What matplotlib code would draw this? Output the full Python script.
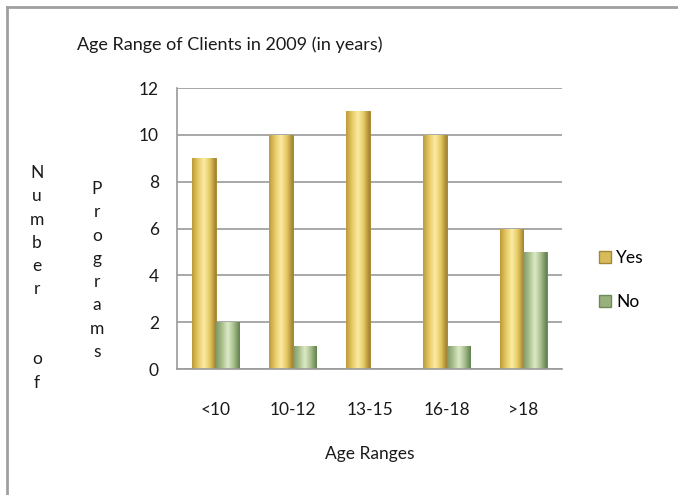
import numpy as np
import matplotlib
matplotlib.use("Agg")
import matplotlib.pyplot as plt
from matplotlib.colors import LinearSegmentedColormap
from matplotlib.patches import Patch
from matplotlib.lines import Line2D

# dados do gráfico
categorias = ["<10", "10-12", "13-15", "16-18", ">18"]
sim = [9, 10, 11, 10, 6]
nao = [2, 1, 0, 1, 5]
yticks = [0, 2, 4, 6, 8, 10, 12]

plt.rcParams['font.family'] = ['Lato', 'DejaVu Sans']

fig = plt.figure(figsize=(6.78, 4.95), dpi=100)
ax = fig.add_axes([0.2611, 0.2545, 0.5678, 0.5677])

# gradientes horizontais tipo Excel
cmap_sim = LinearSegmentedColormap.from_list(
    "sim", ["#BC9A3A", "#E6CA66", "#FBEBA4", "#E4C862", "#A08230"])
cmap_nao = LinearSegmentedColormap.from_list(
    "nao", ["#7E9866", "#A9C08C", "#DDEBC8", "#A6BE8A", "#61804E"])

x = np.arange(len(categorias))
largura = 0.3
b1 = ax.bar(x - largura / 2, sim, largura, color="#E0C460", edgecolor="#A88A36", linewidth=0.7, zorder=2)
b2 = ax.bar(x + largura / 2, nao, largura, color="#A8BE8C", edgecolor="#6E8A58", linewidth=0.7, zorder=2)

grad = np.linspace(0, 1, 64).reshape(1, -1)
for barras, cmap in [(b1, cmap_sim), (b2, cmap_nao)]:
    for b in barras:
        if b.get_height() <= 0:
            continue
        bx, by = b.get_x(), b.get_y()
        w, h = b.get_width(), b.get_height()
        im = ax.imshow(grad, cmap=cmap, extent=[bx, bx + w, by, by + h],
                       aspect="auto", zorder=2.5, interpolation="bicubic")
        im.set_clip_path(b)

ax.set_xlim(-0.5, len(categorias) - 0.5)
ax.set_ylim(0, 12)
ax.set_yticks(yticks)
ax.set_xticks(x)
ax.set_xticklabels(categorias)
ax.tick_params(axis="both", length=0, labelsize=12.5, colors="#1a1a1a")
ax.tick_params(axis="y", pad=13)
ax.tick_params(axis="x", pad=24)
ax.yaxis.grid(True, color="#9a9a9a", linewidth=1.2, zorder=0)
ax.set_axisbelow(True)
for lado in ["top", "right"]:
    ax.spines[lado].set_visible(False)
ax.spines["left"].set_color("#9a9a9a")
ax.spines["bottom"].set_color("#9a9a9a")
ax.spines["left"].set_linewidth(1.2)
ax.spines["bottom"].set_linewidth(1.2)

ax.set_xlabel("Age Ranges", fontsize=12.5, labelpad=20, color="#1a1a1a")

# título
fig.text(230 / 678, 1 - 45 / 495, "Age Range of Clients in 2009 (in years)",
         ha="center", va="center", fontsize=13, color="#1a1a1a")

# rótulo do eixo y em letras empilhadas
fig.text(37 / 678, 1 - 165 / 495, "N\nu\nm\nb\ne\nr\n\n\no\nf", ha="center", va="top",
         fontsize=12.5, linespacing=1.56, color="#1a1a1a")
fig.text(97 / 678, 1 - 181 / 495, "P\nr\no\ng\nr\na\nm\ns", ha="center", va="top",
         fontsize=12.5, linespacing=1.56, color="#1a1a1a")

# legenda
handles = [Patch(facecolor="#D8BC5C", edgecolor="#A08838", label="Yes"),
           Patch(facecolor="#98B07C", edgecolor="#6E8A58", label="No")]
fig.legend(handles=handles, loc="center left", bbox_to_anchor=(583 / 678, 1 - 280 / 495),
           frameon=False, fontsize=12.5, handlelength=0.7, handleheight=0.7,
           handletextpad=0.3, labelspacing=1.6)

# moldura
fig.add_artist(Line2D([7 / 678, 1], [1 - 7 / 495, 1 - 7 / 495], color="#a0a0a0", linewidth=2))
fig.add_artist(Line2D([7 / 678, 7 / 678], [0, 1 - 7 / 495], color="#a0a0a0", linewidth=2))

fig.savefig("out.png", dpi=100)
